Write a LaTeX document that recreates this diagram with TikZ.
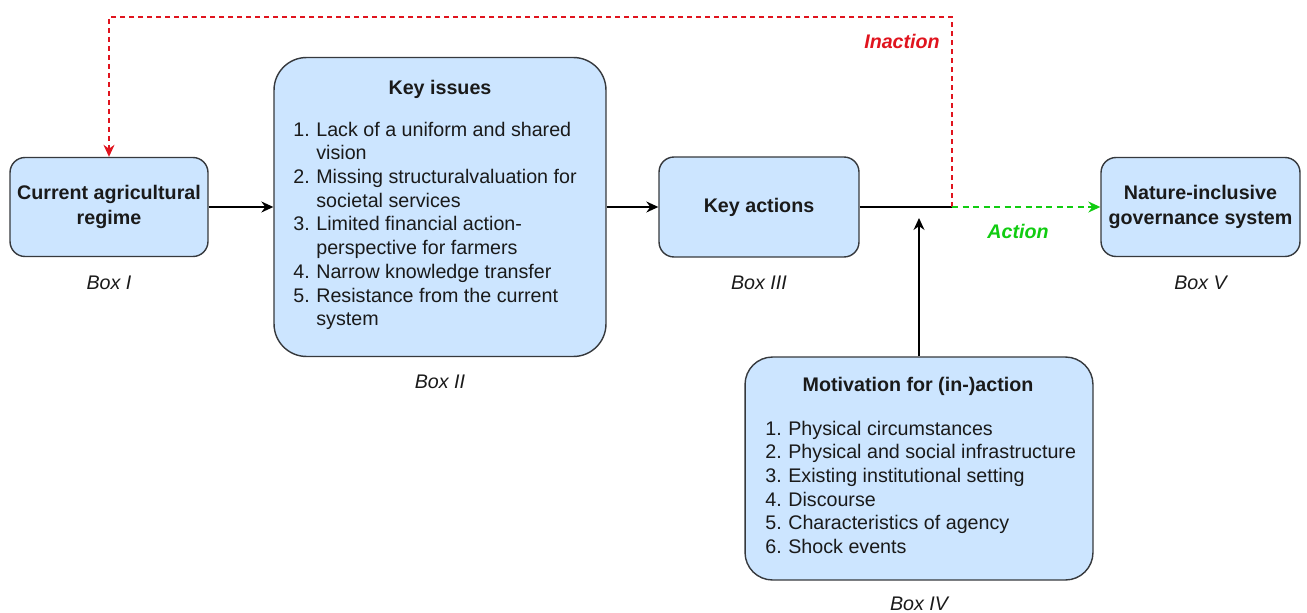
\documentclass[tikz,border=0pt]{standalone}
\usepackage{fontspec}
\setmainfont{Liberation Sans}
\usetikzlibrary{arrows.meta, positioning}
\definecolor{boxFill}{HTML}{CCE5FF}
\definecolor{boxEdge}{HTML}{36393D}
\definecolor{txtGrey}{HTML}{1A1A1A}
\definecolor{inRed}{HTML}{E0141E}
\definecolor{actGreen}{HTML}{11CC11}
\newcommand{\basefont}{\fontsize{11.2}{13.5}\selectfont}
\newcommand{\nr}[1]{\makebox[0.46cm][l]{#1}}
\tikzset{
  box/.style     = {draw=boxEdge, fill=boxFill, line width=0.8pt, rounded corners=0.3cm,
                    align=center, font=\basefont\bfseries, text=txtGrey},
  bigbox/.style  = {box, rounded corners=0.65cm},
  boxlbl/.style  = {font=\basefont\itshape, text=txtGrey, inner sep=0pt},
  boxtitle/.style= {font=\basefont\bfseries, text=txtGrey, anchor=base, inner sep=0pt},
  listtxt/.style = {font=\basefont, text=txtGrey, align=left, anchor=north west, inner sep=0pt},
  flow/.style    = {-{Stealth[length=2.4mm, width=2.2mm]}, line width=0.8pt, black},
  inact/.style   = {flow, inRed, dash pattern=on 1mm off 0.8mm},
  act/.style     = {flow, actGreen, line width=0.9pt, dash pattern=on 1.2mm off 0.9mm},
  pathlbl/.style = {font=\basefont\bfseries\itshape, inner sep=0pt},
}

\begin{document}
\begin{tikzpicture}[x=0.02cm,y=-0.02cm]
  \useasboundingbox (0,0) rectangle (1307,612);
  % boxes
  \node[box, minimum width=3.96cm, minimum height=1.98cm] (b1) at (109,207) {Current agricultural\\[1pt]regime};
  \node[bigbox, minimum width=6.64cm, minimum height=5.98cm] (b2) at (440,207) {};
  \node[box, minimum width=4cm, minimum height=2cm] (b3) at (759,207) {Key actions};
  \node[bigbox, rounded corners=0.55cm, minimum width=6.96cm, minimum height=4.46cm] (b4) at (919,468.5) {};
  \node[box, minimum width=3.98cm, minimum height=1.98cm] (b5) at (1200.5,207) {Nature-inclusive\\[1pt]governance system};
  % box contents
  \node[boxtitle] (t2) at (440,94) {Key issues};
  \node[listtxt] (l2) at (293,121.5) {\nr{1.}Lack of a uniform and shared\\\nr{}vision\\
    \nr{2.}Missing structuralvaluation for\\\nr{}societal services\\
    \nr{3.}Limited financial action-\\\nr{}perspective for farmers\\
    \nr{4.}Narrow knowledge transfer\\
    \nr{5.}Resistance from the current\\\nr{}system};
  \node[boxtitle] (t4) at (918,391) {Motivation for (in-)action};
  \node[listtxt] (l4) at (765,420.5) {\nr{1.}Physical circumstances\\
    \nr{2.}Physical and social infrastructure\\
    \nr{3.}Existing institutional setting\\
    \nr{4.}Discourse\\
    \nr{5.}Characteristics of agency\\
    \nr{6.}Shock events};
  % box labels
  \node[boxlbl, below=0.37cm of b1] (n1) {Box I};
  \node[boxlbl, below=0.34cm of b2] (n2) {Box II};
  \node[boxlbl, below=0.36cm of b3] (n3) {Box III};
  \node[boxlbl, below=0.32cm of b4] (n4) {Box IV};
  \node[boxlbl, below=0.37cm of b5] (n5) {Box V};
  % connectors
  \coordinate (split) at (952,207);
  \coordinate (loop) at (952,17);
  \coordinate (push) at (919,218);
  \draw[flow] (b1.east) -- (b2.west);
  \draw[flow] (b2.east) -- (b3.west);
  \draw[line width=0.8pt] (b3.east) -- (split);
  \draw[inact] (split) -- (loop) -| (b1.north);
  \draw[act] (split) -- (b5.west);
  \draw[flow] (b4.north) -- (push);
  \node[pathlbl, text=inRed] (tin) at (902,41) {Inaction};
  \node[pathlbl, text=actGreen] (tact) at (1018,231) {Action};
\end{tikzpicture}
\end{document}
